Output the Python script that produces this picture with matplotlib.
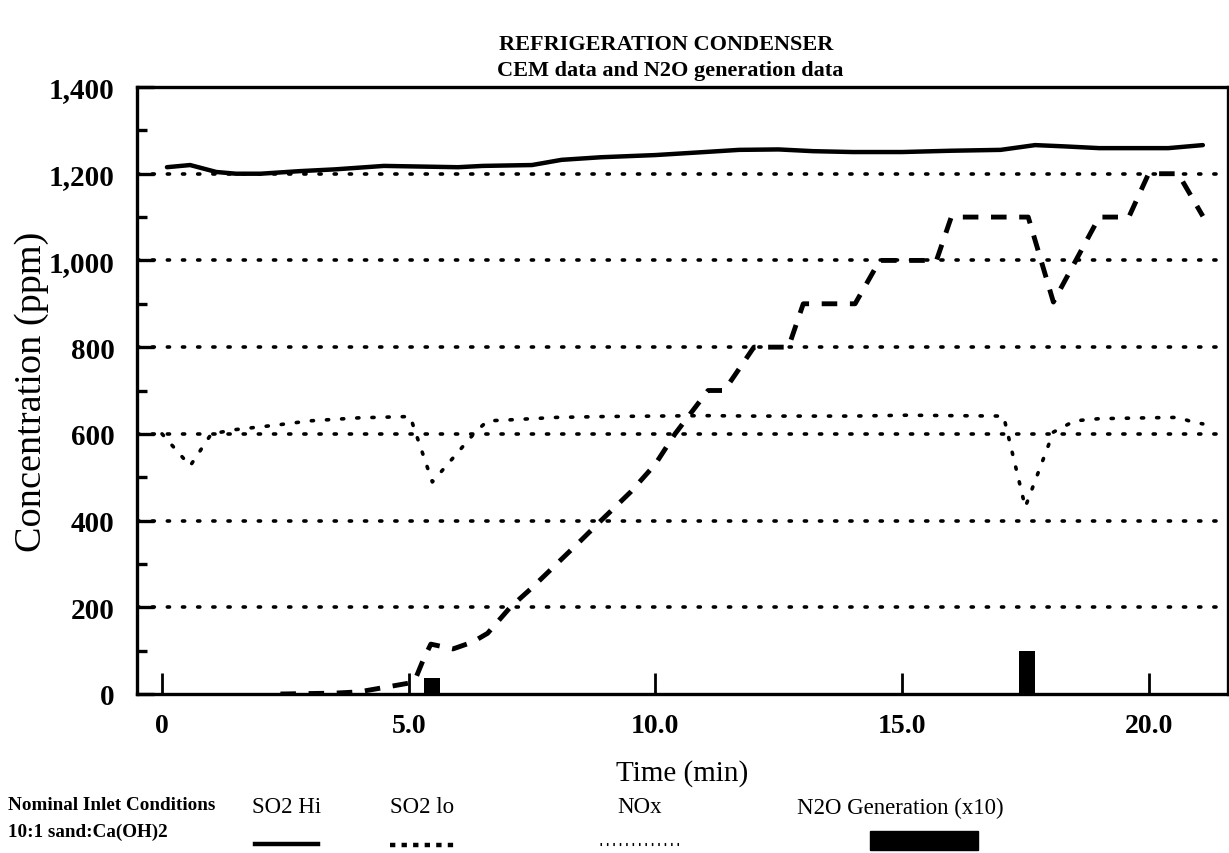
import numpy as np
import matplotlib.pyplot as plt
from matplotlib.lines import Line2D
from matplotlib.patches import Rectangle
from matplotlib.ticker import MultipleLocator, FuncFormatter

plt.rcParams['font.family'] = ['Liberation Serif', 'DejaVu Serif']

# SO2 Hi (solid)
so2hi_t = [0.1, 0.57, 1.1, 1.5, 2.0, 2.8, 3.5, 4.5, 5.0, 6.0, 6.5, 7.5, 8.1, 8.9,
           10.0, 11.0, 11.7, 12.5, 13.2, 14.0, 15.0, 16.0, 17.0, 17.7, 18.3, 19.0,
           20.4, 21.1]
so2hi = [1215, 1220, 1204, 1200, 1200, 1206, 1210, 1218, 1217, 1215, 1218, 1220,
         1232, 1238, 1243, 1250, 1255, 1256, 1252, 1250, 1250, 1253, 1255, 1266,
         1263, 1259, 1259, 1266]

# SO2 lo (dashed)
so2lo_t = [2.4, 3.5, 4.0, 4.5, 5.0, 5.12, 5.3, 5.45, 5.9, 6.3, 6.6, 7.06, 7.5, 8.0,
           8.5, 8.9, 9.5, 10.0, 10.4, 11.07, 11.4, 12.0, 12.7, 13.0, 14.05, 14.55,
           15.7, 16.0, 17.56, 18.07, 19.0, 19.6, 20.0, 20.6, 21.1]
so2lo = [0, 2, 5, 15, 25, 30, 80, 115, 104, 120, 140, 200, 245, 300, 355, 400, 466,
         530, 600, 700, 700, 800, 800, 900, 900, 1000, 1000, 1100, 1100, 904, 1100,
         1100, 1200, 1200, 1102]

# NOx (dotted)
nox_t = [0.0, 0.57, 1.0, 1.5, 2.3, 3.0, 4.0, 5.03, 5.48, 6.35, 6.6, 7.0, 8.0, 9.0,
         10.0, 11.0, 12.0, 13.0, 14.0, 15.1, 16.0, 17.06, 17.5, 18.07, 18.5, 19.0,
         20.0, 20.6, 20.9, 21.1]
nox = [600, 526, 600, 610, 620, 630, 637, 640, 489, 604, 630, 632, 638, 640, 641,
       642, 641, 641, 641, 643, 642, 641, 431, 604, 630, 635, 637, 638, 627, 623]

# N2O generation (x10)
n2o_t = [5.48, 17.53]
n2o = [38, 100]

fig = plt.figure(figsize=(12.29, 8.54), dpi=100)
ax = fig.add_axes([137/1229, 1-695/854, (1228-137)/1229, (695-88)/854])

ax.bar(n2o_t, n2o, width=0.33, color='black', zorder=2)
ax.plot(so2hi_t, so2hi, color='black', lw=3.2, solid_capstyle='round', zorder=4)
ax.plot(so2lo_t, so2lo, color='black', lw=3.5, linestyle=(0, (3.2, 2.6)), zorder=4)
ax.plot(nox_t, nox, color='black', lw=2.6, linestyle=(0, (0.6, 3.6)),
        dash_capstyle='round', zorder=4)

ax.set_xlim(-0.507, 21.61)
ax.set_ylim(0, 1400)
ax.set_xticks([0, 5, 10, 15, 20])
ax.xaxis.set_major_formatter(FuncFormatter(lambda v, p: '0' if v == 0 else f'{v:.1f}'))
ax.yaxis.set_major_locator(MultipleLocator(200))
ax.yaxis.set_minor_locator(MultipleLocator(100))
ax.yaxis.set_major_formatter(FuncFormatter(lambda v, p: f'{int(v):,}'))

ax.grid(axis='y', which='major', color='black', lw=2.6, linestyle=(0, (0.6, 3.6)),
        dash_capstyle='round')
ax.set_axisbelow(True)
fig.canvas.draw()
for val, gl in zip(ax.get_yticks(), ax.yaxis.get_gridlines()):
    if val <= 0 or val >= 1400:
        gl.set_visible(False)

for s in ax.spines.values():
    s.set_linewidth(2.4)

ax.tick_params(axis='y', which='major', direction='in', length=12, width=2.4,
               labelsize=21, pad=16)
ax.tick_params(axis='y', which='minor', direction='in', length=7, width=2.4)
ax.tick_params(axis='x', which='major', direction='in', length=15, width=2.0,
               labelsize=20, pad=14)
for lab in ax.get_xticklabels() + ax.get_yticklabels():
    lab.set_fontweight('bold')

ax.set_xlabel('Time (min)', fontsize=21, labelpad=15)
ax.set_ylabel('Concentration (ppm)', fontsize=27.5, labelpad=0)

fig.text(666/1229, 1-45/854, 'REFRIGERATION CONDENSER', ha='center', va='center',
         fontsize=16, fontweight='bold')
fig.text(670/1229, 1-71/854, 'CEM data and N2O generation data', ha='center',
         va='center', fontsize=16, fontweight='bold')

# legend area
fig.text(8/1229, 1-806/854, 'Nominal Inlet Conditions', ha='left', va='center',
         fontsize=13.8, fontweight='bold')
fig.text(8/1229, 1-832/854, '10:1 sand:Ca(OH)2', ha='left', va='center',
         fontsize=13.8, fontweight='bold')

labels = ['SO2 Hi', 'SO2 lo', 'NOx', 'N2O Generation (x10)']
centers = [287, 422, 640, 900]
for lab, cx in zip(labels, centers):
    fig.text(cx/1229, 1-808/854, lab, ha='center', va='center', fontsize=16.5)

tf = fig.transFigure
fig.add_artist(Line2D([255/1229, 318/1229], [1-845/854]*2, transform=tf,
                      color='black', lw=3.2))
fig.add_artist(Line2D([390/1229, 455/1229], [1-846/854]*2, transform=tf,
                      color='black', lw=3.2, linestyle=(0, (1.2, 1.4))))
fig.add_artist(Line2D([600/1229, 682/1229], [1-845/854]*2, transform=tf,
                      color='black', lw=2.2, linestyle=(0, (0.5, 1.6))))
fig.add_artist(Rectangle((870/1229, 1-851/854), 108/1229, 19/854, transform=tf,
                         color='black'))

fig.savefig('out.png', dpi=100)
